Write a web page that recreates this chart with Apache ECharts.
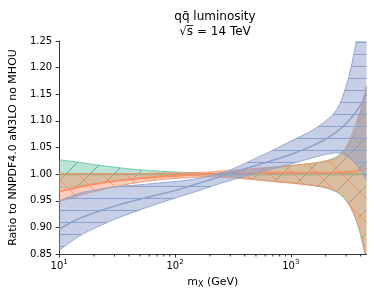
<!DOCTYPE html>
<html><head><meta charset="utf-8">
<script src="https://cdn.jsdelivr.net/npm/echarts@6/dist/echarts.min.js"></script>
<style>html,body{margin:0;padding:0;background:#fff}#c{width:374px;height:297px}</style>
</head><body><div id="c"></div>
<script>
// ---- data ----
const mass = [10, 15, 20, 30, 50, 70, 100, 150, 200, 250, 300, 400, 500, 700, 1000, 1500, 2000, 2500, 3000, 3500, 4000, 4500];

const greenLow  = [0.973, 0.978, 0.982, 0.987, 0.992, 0.994, 0.996, 0.998, 0.999, 0.998, 0.996, 0.993, 0.991, 0.987, 0.984, 0.979, 0.974, 0.966, 0.950, 0.925, 0.885, 0.835];
const greenMid  = [1.000, 1.000, 1.000, 1.000, 1.000, 1.000, 1.000, 1.000, 1.000, 1.000, 1.000, 1.000, 1.000, 1.000, 1.000, 1.000, 1.000, 1.000, 1.000, 1.000, 1.000, 1.000];
const greenHigh = [1.027, 1.022, 1.018, 1.013, 1.008, 1.006, 1.004, 1.002, 1.001, 1.002, 1.004, 1.007, 1.009, 1.013, 1.016, 1.020, 1.025, 1.033, 1.050, 1.075, 1.115, 1.165];

const orangeLow  = [0.948, 0.960, 0.967, 0.976, 0.985, 0.989, 0.992, 0.994, 0.995, 0.994, 0.993, 0.991, 0.989, 0.986, 0.983, 0.979, 0.975, 0.968, 0.952, 0.925, 0.890, 0.840];
const orangeMid  = [0.967, 0.976, 0.981, 0.987, 0.992, 0.995, 0.997, 0.999, 1.000, 1.001, 1.002, 1.002, 1.003, 1.003, 1.003, 1.003, 1.003, 1.003, 1.004, 1.005, 1.007, 1.011];
const orangeHigh = [1.001, 1.001, 1.001, 1.001, 1.001, 1.002, 1.002, 1.003, 1.004, 1.006, 1.007, 1.009, 1.011, 1.013, 1.016, 1.020, 1.024, 1.030, 1.050, 1.085, 1.120, 1.165];

const blueLow  = [0.857, 0.884, 0.898, 0.915, 0.933, 0.944, 0.955, 0.967, 0.976, 0.983, 0.988, 0.996, 1.002, 1.010, 1.019, 1.030, 1.037, 1.040, 1.035, 1.023, 1.007, 0.990];
const blueMid  = [0.897, 0.917, 0.927, 0.940, 0.953, 0.961, 0.969, 0.981, 0.989, 0.996, 1.002, 1.010, 1.016, 1.026, 1.037, 1.052, 1.066, 1.080, 1.095, 1.112, 1.130, 1.150];
const blueHigh = [0.950, 0.964, 0.970, 0.976, 0.980, 0.983, 0.986, 0.991, 0.997, 1.002, 1.008, 1.020, 1.030, 1.045, 1.062, 1.081, 1.100, 1.122, 1.165, 1.225, 1.300, 1.380];

const minorTickMass = [20, 30, 40, 50, 60, 70, 80, 90, 200, 300, 400, 500, 600, 700, 800, 900, 2000, 3000, 4000];
const xMin = 10, xMax = 4500, yMin = 0.85, yMax = 1.25, yStep = 0.05;

const titleText = 'qq\u0304 luminosity\n\u221As\u0305 = 14 TeV';
const yAxisTitle = 'Ratio to NNPDF4.0 aN3LO no MHOU';

// ---- styling helpers ----
const FONT = 'DejaVu Sans';
function hatch(fill, line, kind) {
  const s = kind === 'h' ? 12 : 24;
  const c = document.createElement('canvas');
  c.width = s; c.height = s;
  const g = c.getContext('2d');
  g.fillStyle = fill; g.fillRect(0, 0, s, s);
  g.strokeStyle = line; g.lineWidth = 1;
  g.beginPath();
  if (kind === 'h') { g.moveTo(0, 6.5); g.lineTo(s, 6.5); }
  else if (kind === '/') {
    g.moveTo(-1, s + 1); g.lineTo(s + 1, -1);
    g.moveTo(-1, 1); g.lineTo(1, -1);
    g.moveTo(s - 1, s + 1); g.lineTo(s + 1, s - 1);
  } else {
    g.moveTo(-1, -1); g.lineTo(s + 1, s + 1);
    g.moveTo(s - 1, -1); g.lineTo(s + 1, 1);
    g.moveTo(-1, s - 1); g.lineTo(1, s + 1);
  }
  g.stroke();
  return { image: c, repeat: 'repeat' };
}

// monotone cubic (Fritsch-Carlson) through pixel points, x increasing
function monoSmooth(pts, steps) {
  const n = pts.length;
  if (n < 3) return pts.slice();
  const dx = [], m = [], t = new Array(n);
  for (let i = 0; i < n - 1; i++) {
    dx.push(pts[i + 1][0] - pts[i][0]);
    m.push((pts[i + 1][1] - pts[i][1]) / dx[i]);
  }
  t[0] = m[0]; t[n - 1] = m[n - 2];
  for (let i = 1; i < n - 1; i++) {
    if (m[i - 1] * m[i] <= 0) t[i] = 0;
    else {
      const w1 = 2 * dx[i] + dx[i - 1], w2 = dx[i] + 2 * dx[i - 1];
      t[i] = (w1 + w2) / (w1 / m[i - 1] + w2 / m[i]);
    }
  }
  const out = [];
  for (let i = 0; i < n - 1; i++) {
    const h = dx[i];
    for (let k = 0; k < steps; k++) {
      const s = k / steps, s2 = s * s, s3 = s2 * s;
      const y = (2 * s3 - 3 * s2 + 1) * pts[i][1] + (s3 - 2 * s2 + s) * h * t[i]
              + (-2 * s3 + 3 * s2) * pts[i + 1][1] + (s3 - s2) * h * t[i + 1];
      out.push([pts[i][0] + s * h, y]);
    }
  }
  out.push(pts[n - 1]);
  return out;
}

function band(name, lo, hi, mid, color, edgeColor, pattern, midWidth) {
  return [
    { type: 'custom', name: name + ' band', clip: true, silent: true,
      data: [[mass[0], mid[0]]], encode: { x: 0, y: 1 },
      renderItem: function (params, api) {
        const top = monoSmooth(mass.map((m, i) => api.coord([m, hi[i]])), 8);
        const bot = monoSmooth(mass.map((m, i) => api.coord([m, lo[i]])), 8);
        return {
          type: 'group',
          children: [
            { type: 'polygon', shape: { points: top.concat(bot.slice().reverse()) },
              style: { fill: pattern, stroke: null } },
            { type: 'polyline', shape: { points: top },
              style: { fill: null, stroke: edgeColor, lineWidth: 1 } },
            { type: 'polyline', shape: { points: bot },
              style: { fill: null, stroke: edgeColor, lineWidth: 1 } }
          ]
        };
      } },
    { type: 'custom', name: name, clip: true, silent: true,
      data: [[mass[0], mid[0]]], encode: { x: 0, y: 1 },
      renderItem: function (params, api) {
        const pts = monoSmooth(mass.map((m, i) => api.coord([m, mid[i]])), 8);
        return { type: 'polyline', shape: { points: pts },
                 style: { fill: null, stroke: color, lineWidth: midWidth } };
      } }
  ];
}

const green = '#66c2a5', orange = '#fc8d62', blue = '#8da0cb';
const series = [].concat(
  band('green', greenLow, greenHigh, greenMid, green, 'rgba(102,194,165,0.9)', hatch('rgba(102,194,165,0.45)', 'rgba(80,165,135,0.9)', '/'), 2),
  band('orange', orangeLow, orangeHigh, orangeMid, orange, 'rgba(252,141,98,0.9)', hatch('rgba(252,141,98,0.45)', 'rgba(252,141,98,0.95)', '\\'), 1.8),
  band('blue', blueLow, blueHigh, blueMid, blue, 'rgba(141,160,203,0.9)', hatch('rgba(141,160,203,0.5)', 'rgba(141,160,203,1)', 'h'), 1.5),
  [{ type: 'scatter', name: 'minor ticks', data: minorTickMass.map(m => [m, yMin]), symbol: 'rect',
     symbolSize: [1, 2], symbolOffset: [0, 1.5], itemStyle: { color: '#000' }, clip: false, silent: true, z: 5 }]
);

const chart = echarts.init(document.getElementById('c'), null, { renderer: 'canvas' });
chart.setOption({
  animation: false,
  backgroundColor: '#fff',
  title: {
    text: titleText, left: 210, top: 5, textAlign: 'center',
    textStyle: { fontFamily: FONT, fontSize: 12, fontWeight: 'normal', color: '#000', lineHeight: 14.5 }
  },
  grid: { left: 55, right: 7.5, top: 41, bottom: 43, containLabel: false },
  xAxis: {
    type: 'log', logBase: 10, min: xMin, max: xMax,
    name: '{a|m}{s|X}{a| (GeV)}', nameLocation: 'middle', nameGap: 21,
    nameTextStyle: { fontFamily: FONT, color: '#000',
      rich: { a: { fontFamily: FONT, fontSize: 11, color: '#000', lineHeight: 14 },
              s: { fontFamily: FONT, fontSize: 8, color: '#000', lineHeight: 14, verticalAlign: 'bottom', padding: [4, 0, 0, 0] } } },
    axisLine: { lineStyle: { color: '#000', width: 0.8 } },
    axisTick: { length: 3.5, lineStyle: { color: '#000', width: 0.8 } },
    axisLabel: {
      margin: 5, showMaxLabel: false,
      formatter: v => { const e = Math.log10(v); return Math.abs(e - Math.round(e)) < 1e-6 ? '{b|10}{p|' + Math.round(e) + '}' : ''; },
      rich: { b: { fontFamily: FONT, fontSize: 10, color: '#000', lineHeight: 14 },
              p: { fontFamily: FONT, fontSize: 7, color: '#000', lineHeight: 14, verticalAlign: 'top', padding: [0, 0, 4, 0] } }
    },
    splitLine: { show: false }
  },
  yAxis: {
    type: 'value', min: yMin, max: yMax, interval: yStep,
    name: yAxisTitle, nameLocation: 'middle', nameGap: 38, nameRotate: 90,
    nameTextStyle: { fontFamily: FONT, fontSize: 11, color: '#000' },
    axisLine: { show: true, lineStyle: { color: '#000', width: 0.8 } },
    axisTick: { show: true, length: 3.5, lineStyle: { color: '#000', width: 0.8 } },
    axisLabel: { margin: 7, fontFamily: FONT, fontSize: 10, color: '#000', formatter: v => v.toFixed(2) },
    splitLine: { show: false }
  },
  series: series
});
</script></body></html>
